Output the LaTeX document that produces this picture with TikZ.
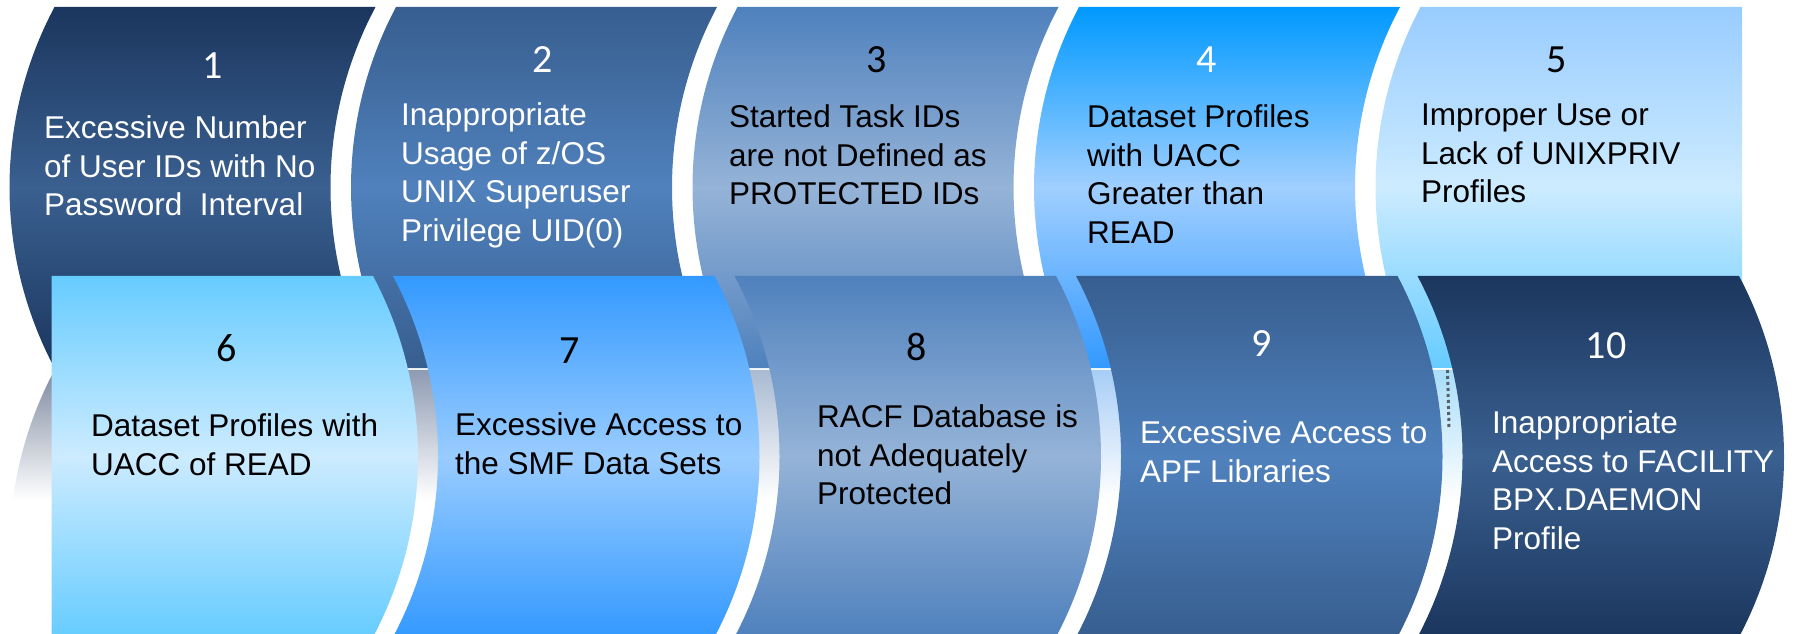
\documentclass[tikz,border=0pt]{standalone}
\usepackage{fontspec}
\setmainfont{Liberation Sans}
\newfontfamily\numfam{Carlito}
\newcommand\mytxt{\fontsize{31.5}{38.5}\selectfont}
\newcommand\mynum{\numfam\fontsize{40}{48}\selectfont}
\definecolor{T1a}{HTML}{1B365E}\definecolor{T1b}{HTML}{3A6090}
\definecolor{T2a}{HTML}{375E8F}\definecolor{T2b}{HTML}{5081BC}
\definecolor{T3a}{HTML}{4F81BD}\definecolor{T3b}{HTML}{95B3D7}
\definecolor{T4a}{HTML}{0099FF}\definecolor{T4b}{HTML}{A0CFFF}\definecolor{T4c}{HTML}{3399FF}
\definecolor{T5a}{HTML}{99CCFF}\definecolor{T5b}{HTML}{CCEBFF}\definecolor{T5c}{HTML}{66CCFF}
\definecolor{R1}{HTML}{7E8AA0}\definecolor{R2}{HTML}{8E9BB3}\definecolor{R3}{HTML}{A9BAD2}
\definecolor{R4}{HTML}{A7CDF6}\definecolor{R5}{HTML}{A9DDF8}
\definecolor{dotc}{HTML}{56606C}
\begin{document}
\begin{tikzpicture}[x=1pt,y=1pt,
  lbl/.style={font=\mytxt, align=left, anchor=base west, inner sep=0pt},
  num/.style={font=\mynum, anchor=base, inner sep=0pt},
  dotline/.style={dotc, line width=3pt, dash pattern=on 3pt off 3pt}]
\useasboundingbox (0,0) rectangle (1796,634);
\clip (0,0) rectangle (1796,634);
% reflections of the top bands
\foreach \L/\c in {54.5/R1,396/R2,737.5/R3,1079/R4,1420.5/R5}{
  \begin{scope}
    \clip (\L,264) -- ++(321,0) arc[start angle=152,end angle=208,radius=384.5]
      -- ++(-321,0) arc[start angle=208,end angle=152,radius=384.5] -- cycle;
    \shade[top color=\c, bottom color=white] (\L-60,264) rectangle (\L+330,134);
  \end{scope}}
% top bands
\foreach \L/\a/\b/\c in {54.5/T1a/T1b/T1a,396/T2a/T2b/T2a,737.5/T3a/T3b/T3a,1079/T4a/T4b/T4c}{
  \shade[top color=\a, bottom color=\c, middle color=\b]
    (\L,627) -- ++(321,0) arc[start angle=152,end angle=208,radius=384.5]
    -- ++(-321,0) arc[start angle=208,end angle=152,radius=384.5] -- cycle;}
\shade[top color=T5a, bottom color=T5c, middle color=T5b]
  (1420.5,627) -- (1742,627) -- (1742,266) -- (1420.5,266)
  arc[start angle=208,end angle=152,radius=384.5] -- cycle;
% bottom bands
\shade[top color=T5c, bottom color=T5c, middle color=T5b]
  (51.5,358) -- (373,358) arc[start angle=28,end angle=-28,radius=384.5] -- (51.5,-3) -- cycle;
\foreach \L/\a/\b in {393/T4c/T5a,734.5/T3a/T3b,1076/T2a/T3a,1417.5/T1a/T1b}{
  \shade[top color=\a, bottom color=\a, middle color=\b]
    (\L,358) -- ++(321.5,0) arc[start angle=28,end angle=-28,radius=384.5]
    -- ++(-321.5,0) arc[start angle=-28,end angle=28,radius=384.5] -- cycle;}
% dotted mark
\coordinate (d1) at (1447.5,264);
\coordinate (d2) at (1449,206);
\draw[dotline] (d1) -- (d2);
% numbers
\node[num, white] (n1) at (213,555) {1};
\node[num, white] (n2) at (543,561) {2};
\node[num] (n3) at (877,561) {3};
\node[num, white] (n4) at (1207,561) {4};
\node[num] (n5) at (1557,561) {5};
\node[num] (n6) at (227,272) {6};
\node[num] (n7) at (570,270) {7};
\node[num] (n8) at (917,273) {8};
\node[num, white] (n9) at (1262,277) {9};
\node[num, white] (n10) at (1606,275) {10};
% texts (anchor = baseline of the last line)
\node[lbl, white] (t1) at (44,418) {Excessive Number\\of User IDs with No\\Password\ \ Interval};
\node[lbl, white] (t2) at (401,392.5) {Inappropriate\\Usage of z/OS\\UNIX Superuser\\Privilege UID(0)};
\node[lbl] (t3) at (729,429) {Started Task IDs\\are not Defined as\\PROTECTED IDs};
\node[lbl] (t4) at (1087,390.5) {Dataset Profiles\\with UACC\\Greater than\\READ};
\node[lbl] (t5) at (1421,431) {Improper Use or\\Lack of UNIXPRIV\\Profiles};
\node[lbl] (t6) at (91,158.5) {Dataset Profiles with\\UACC of READ};
\node[lbl] (t7) at (455,159.5) {Excessive Access to\\the SMF Data Sets};
\node[lbl] (t8) at (817,129) {RACF Database is\\not Adequately\\Protected};
\node[lbl, white] (t9) at (1140,151.5) {Excessive Access to\\APF Libraries};
\node[lbl, white] (t10) at (1492,84.5) {Inappropriate\\Access to FACILITY\\BPX.DAEMON\\Profile};
\end{tikzpicture}
\end{document}
